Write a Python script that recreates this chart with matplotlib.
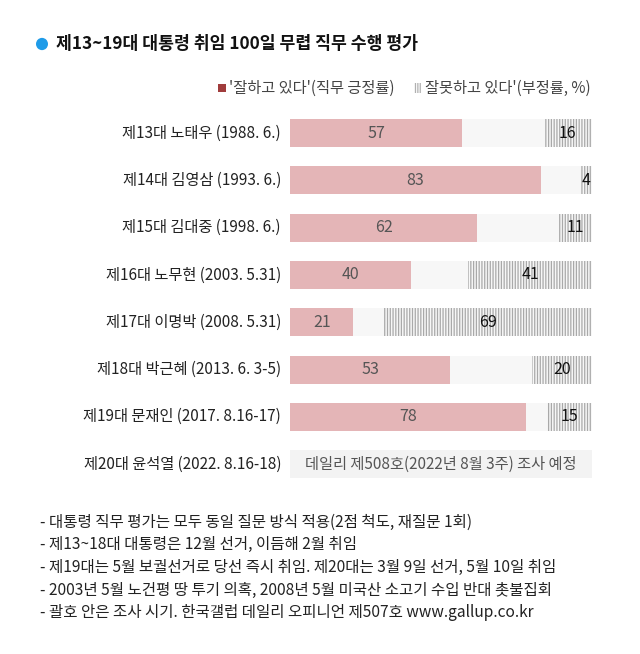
import matplotlib
matplotlib.use("Agg")
import matplotlib.pyplot as plt
from matplotlib.patches import Rectangle, Circle

plt.rcParams['font.family'] = ['Noto Sans CJK KR', 'DejaVu Sans']
plt.rcParams['hatch.linewidth'] = 0.9
plt.rcParams['hatch.color'] = '#a9a9a9'

categories = ["제13대 노태우 (1988. 6.)", "제14대 김영삼 (1993. 6.)", "제15대 김대중 (1998. 6.)",
              "제16대 노무현 (2003. 5.31)", "제17대 이명박 (2008. 5.31)", "제18대 박근혜 (2013. 6. 3-5)",
              "제19대 문재인 (2017. 8.16-17)", "제20대 윤석열 (2022. 8.16-18)"]
positive = [57, 83, 62, 40, 21, 53, 78]
negative = [16, 4, 11, 41, 69, 20, 15]
pending_text = "데일리 제508호(2022년 8월 3주) 조사 예정"
title = "제13~19대 대통령 취임 100일 무렵 직무 수행 평가"
legend_pos = "'잘하고 있다'(직무 긍정률)"
legend_neg = "잘못하고 있다'(부정률, %)"
notes = ["- 대통령 직무 평가는 모두 동일 질문 방식 적용(2점 척도, 재질문 1회)",
         "- 제13~18대 대통령은 12월 선거, 이듬해 2월 취임",
         "- 제19대는 5월 보궐선거로 당선 즉시 취임. 제20대는 3월 9일 선거, 5월 10일 취임",
         "- 2003년 5월 노건평 땅 투기 의혹, 2008년 5월 미국산 소고기 수입 반대 촛불집회",
         "- 괄호 안은 조사 시기. 한국갤럽 데일리 오피니언 제507호 www.gallup.co.kr"]

W, H = 640, 654
fig = plt.figure(figsize=(W/100, H/100), dpi=100)

def fx(x): return x / W
def fy(y): return 1 - y / H

STEP = 47.3
ax = fig.add_axes([fx(290), fy(490), 302/W, 390/H])
ax.set_xlim(0, 100)
ax.set_ylim(357/STEP, -33/STEP)
ax.axis('off')

h = 28/STEP
n = len(positive)
ys = list(range(n))
ax.barh(ys, [100]*n, height=h, color='#f7f7f7', edgecolor='none')
ax.barh(ys, positive, height=h, color='#e4b5b7', edgecolor='none')
lefts = [100 - v for v in negative]
ax.barh(ys, negative, left=lefts, height=h, color='#f7f7f7', edgecolor='#a9a9a9',
        linewidth=0, hatch='||||||')
for y, p, q in zip(ys, positive, negative):
    ax.text(p/2, y, str(p), ha='center', va='center', fontsize=11.5, color='#555555')
    ax.text(100 - q/2, y, str(q), ha='center', va='center', fontsize=11.5, color='#111111')

# 20th row pending
ax.barh([n], [100], height=h, color='#f3f3f3', edgecolor='none')
ax.text(50, n, pending_text, ha='center', va='center', fontsize=11, color='#555555')

for y, c in enumerate(categories):
    fig.text(fx(281), fy(133 + STEP*y), c, ha='right', va='center', fontsize=11, color='#222222')

# title
fig.patches.append(Circle((fx(42), fy(44)), 6/W, transform=fig.transFigure,
                          facecolor='#1e9be8', edgecolor='none'))
fig.text(fx(56), fy(44), title, ha='left', va='center', fontsize=12.4, fontweight='bold', color='#111111')

# legend
fig.patches.append(Rectangle((fx(218), fy(92)), 8/W, 8/H, transform=fig.transFigure,
                             facecolor='#a03c3c', edgecolor='none'))
fig.text(fx(229), fy(88), legend_pos, ha='left', va='center', fontsize=11, color='#444444')
fig.patches.append(Rectangle((fx(414), fy(93)), 8/W, 10/H, transform=fig.transFigure,
                             facecolor='white', edgecolor='#b0b0b0', linewidth=0, hatch='|||||||'))
fig.text(fx(425), fy(88), legend_neg, ha='left', va='center', fontsize=11, color='#444444')

for i, t in enumerate(notes):
    fig.text(fx(40), fy(522 + 22.7*i), t, ha='left', va='center', fontsize=11.2, color='#222222')

fig.savefig('out.png', dpi=100, facecolor='white')
